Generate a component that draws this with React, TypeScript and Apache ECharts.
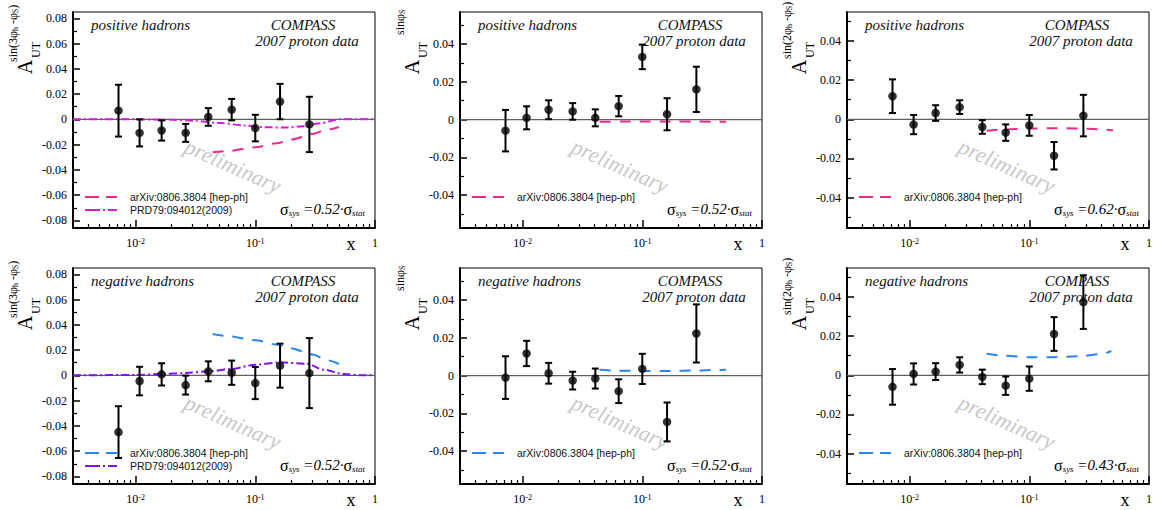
import React, { useEffect, useRef } from 'react';
import * as echarts from 'echarts';

const SERIF = '"Liberation Serif", "Times New Roman", serif';
const SANS = '"Liberation Sans", Arial, sans-serif';

// x bin centres, common to all panels
const xBins = [0.0072, 0.0108, 0.0165, 0.0262, 0.0405, 0.0635, 0.1, 0.161, 0.283];

// x axis
const xRange = [0.003, 1];
const xMajorTicks = [0.01, 0.1, 1];
const xMajorLabels = ['10^-2', '10^-1', '1'];
const xMinorTicks = [0.004, 0.005, 0.006, 0.007, 0.008, 0.009, 0.02, 0.03, 0.04, 0.05, 0.06, 0.07, 0.08, 0.09, 0.2, 0.3, 0.4, 0.5, 0.6, 0.7, 0.8, 0.9];

// y axis ticks
const yMajorWide = [-0.08, -0.06, -0.04, -0.02, 0, 0.02, 0.04, 0.06, 0.08];
const yMinorWide = [-0.07, -0.05, -0.03, -0.01, 0.01, 0.03, 0.05, 0.07];
const yMajorNarrow = [-0.04, -0.02, 0, 0.02, 0.04];
const yMinorNarrow = [-0.05, -0.03, -0.01, 0.01, 0.03, 0.05];

// panel 1: sin(3phi_h - phi_S), positive hadrons
const a3PosVal = [0.0069, -0.0107, -0.0088, -0.0107, 0.0019, 0.0077, -0.0069, 0.0141, -0.0040];
const a3PosErr = [0.0205, 0.0107, 0.0080, 0.0071, 0.0070, 0.0085, 0.0105, 0.0140, 0.0219];
const a3PosArxivX = [0.044, 0.06, 0.08, 0.1, 0.15, 0.2, 0.3, 0.4, 0.5];
const a3PosArxivY = [-0.026, -0.025, -0.0235, -0.022, -0.019, -0.016, -0.0115, -0.008, -0.006];
const a3PosPrdX = [0.003, 0.01, 0.02, 0.03, 0.05, 0.08, 0.12, 0.18, 0.25, 0.35, 0.5, 0.7, 1.0];
const a3PosPrdY = [0, 0, -0.0003, -0.001, -0.0028, -0.0048, -0.0062, -0.0065, -0.0055, -0.003, 0, 0, 0];

// panel 2: sin(phi_S), positive hadrons
const aSPosVal = [-0.0059, 0.0009, 0.0052, 0.0043, 0.0009, 0.0071, 0.0332, 0.0028, 0.0160];
const aSPosErr = [0.0110, 0.0061, 0.0050, 0.0044, 0.0045, 0.0054, 0.0065, 0.0085, 0.0120];
const aSPosArxivX = [0.044, 0.07, 0.1, 0.15, 0.2, 0.3, 0.5];
const aSPosArxivY = [-0.0012, -0.0011, -0.001, -0.001, -0.001, -0.0011, -0.0012];

// panel 3: sin(2phi_h - phi_S), positive hadrons
const a2PosVal = [0.0118, -0.0027, 0.0032, 0.0062, -0.0039, -0.0068, -0.0031, -0.0186, 0.0019];
const a2PosErr = [0.0086, 0.0049, 0.0040, 0.0035, 0.0035, 0.0042, 0.0053, 0.0070, 0.0106];
const a2PosArxivX = [0.044, 0.06, 0.1, 0.15, 0.2, 0.3, 0.4, 0.5];
const a2PosArxivY = [-0.0058, -0.0052, -0.0047, -0.0046, -0.0046, -0.0048, -0.0052, -0.0056];

// panel 4: sin(3phi_h - phi_S), negative hadrons
const a3NegVal = [-0.0449, -0.0045, 0.0008, -0.0077, 0.0032, 0.0021, -0.0061, 0.0077, 0.0018];
const a3NegErr = [0.0205, 0.0113, 0.0088, 0.0075, 0.0079, 0.0096, 0.0127, 0.0174, 0.0277];
const a3NegArxivX = [0.044, 0.06, 0.1, 0.15, 0.2, 0.25, 0.3, 0.4, 0.5];
const a3NegArxivY = [0.0327, 0.031, 0.0278, 0.0245, 0.0215, 0.019, 0.0165, 0.012, 0.009];
const a3NegPrdX = [0.003, 0.01, 0.0165, 0.026, 0.04, 0.063, 0.1, 0.16, 0.27, 0.37, 0.55, 0.8, 1.0];
const a3NegPrdY = [0, 0.0003, 0.001, 0.0018, 0.0032, 0.005, 0.0084, 0.0103, 0.0092, 0.0045, 0.001, 0, 0];

// panel 5: sin(phi_S), negative hadrons
const aSNegVal = [-0.0011, 0.0117, 0.0012, -0.0027, -0.0016, -0.0083, 0.0035, -0.0246, 0.0223];
const aSNegErr = [0.0113, 0.0067, 0.0055, 0.0047, 0.0053, 0.0063, 0.0080, 0.0103, 0.0154];
const aSNegArxivX = [0.044, 0.06, 0.1, 0.15, 0.2, 0.3, 0.4, 0.5];
const aSNegArxivY = [0.003, 0.0026, 0.0024, 0.0024, 0.0025, 0.0027, 0.0029, 0.003];

// panel 6: sin(2phi_h - phi_S), negative hadrons
const a2NegVal = [-0.0059, 0.0007, 0.0019, 0.0053, -0.0008, -0.0053, -0.0017, 0.0211, 0.0374];
const a2NegErr = [0.0091, 0.0054, 0.0043, 0.0039, 0.0037, 0.0047, 0.0062, 0.0086, 0.0137];
const a2NegArxivX = [0.044, 0.062, 0.1, 0.146, 0.265, 0.39, 0.485];
const a2NegArxivY = [0.011, 0.01, 0.0092, 0.0092, 0.0097, 0.0108, 0.0124];

const sysFactors = ['0.52', '0.52', '0.62', '0.52', '0.52', '0.43'];
const chargeLabels = ['positive hadrons', 'positive hadrons', 'positive hadrons', 'negative hadrons', 'negative hadrons', 'negative hadrons'];
const arxivName = 'arXiv:0806.3804 [hep-ph]';
const prdName = 'PRD79:094012(2009)';

const PINK = '#f0288c';
const MAGENTA = '#d21ed2';
const BLUE = '#2a84f0';
const PURPLE = '#8010f0';
const DASH = [11, 9];
const DASHDOT = [8, 3, 2, 3];
const LEG_DASH = [14, 7];
const LEG_DASHDOT = [15, 3, 2, 3];

const W = 302;
const H = 216;

type Curve = { name: string; x: number[]; y: number[]; color: string; dash: number[]; legDash: number[] };

const wideRange = [-0.086, 0.085];
const sRange = [-0.0575, 0.057];
const twoRange = [-0.0555, 0.0548];

const panels = [
  { L: 73, T: 12, yRange: wideRange, yMajor: yMajorWide, yMinor: yMinorWide, sup: 'sin(3φ{s|h} -φ{s|S})', supStart: 50, vals: a3PosVal, errs: a3PosErr,
    curves: [
      { name: arxivName, x: a3PosArxivX, y: a3PosArxivY, color: PINK, dash: DASH, legDash: LEG_DASH },
      { name: prdName, x: a3PosPrdX, y: a3PosPrdY, color: MAGENTA, dash: DASHDOT, legDash: LEG_DASHDOT },
    ] as Curve[] },
  { L: 460, T: 12, yRange: sRange, yMajor: yMajorNarrow, yMinor: yMinorNarrow, sup: 'sinφ{s|S}', supStart: 23, vals: aSPosVal, errs: aSPosErr,
    curves: [{ name: arxivName, x: aSPosArxivX, y: aSPosArxivY, color: PINK, dash: DASH, legDash: LEG_DASH }] as Curve[] },
  { L: 847, T: 12, yRange: twoRange, yMajor: yMajorNarrow, yMinor: yMinorNarrow, sup: 'sin(2φ{s|h} -φ{s|S})', supStart: 47, vals: a2PosVal, errs: a2PosErr,
    curves: [{ name: arxivName, x: a2PosArxivX, y: a2PosArxivY, color: PINK, dash: DASH, legDash: LEG_DASH }] as Curve[] },
  { L: 73, T: 268, yRange: wideRange, yMajor: yMajorWide, yMinor: yMinorWide, sup: 'sin(3φ{s|h} -φ{s|S})', supStart: 50, vals: a3NegVal, errs: a3NegErr,
    curves: [
      { name: arxivName, x: a3NegArxivX, y: a3NegArxivY, color: BLUE, dash: DASH, legDash: LEG_DASH },
      { name: prdName, x: a3NegPrdX, y: a3NegPrdY, color: PURPLE, dash: DASHDOT, legDash: LEG_DASHDOT },
    ] as Curve[] },
  { L: 460, T: 268, yRange: sRange, yMajor: yMajorNarrow, yMinor: yMinorNarrow, sup: 'sinφ{s|S}', supStart: 23, vals: aSNegVal, errs: aSNegErr,
    curves: [{ name: arxivName, x: aSNegArxivX, y: aSNegArxivY, color: BLUE, dash: DASH, legDash: LEG_DASH }] as Curve[] },
  { L: 847, T: 268, yRange: twoRange, yMajor: yMajorNarrow, yMinor: yMinorNarrow, sup: 'sin(2φ{s|h} -φ{s|S})', supStart: 47, vals: a2NegVal, errs: a2NegErr,
    curves: [{ name: arxivName, x: a2NegArxivX, y: a2NegArxivY, color: BLUE, dash: DASH, legDash: LEG_DASH }] as Curve[] },
];

function fmtX(v: number) {
  const lv = Math.log10(v);
  for (let i = 0; i < xMajorTicks.length; i++) {
    if (Math.abs(Math.log10(xMajorTicks[i]) - lv) < 1e-6) {
      const parts = xMajorLabels[i].split('^');
      if (parts.length === 2) return '{b|' + parts[0] + '}{e|' + parts[1] + '}';
      return '{o|' + parts[0] + '}';
    }
  }
  return '';
}

function fmtY(v: number) {
  if (Math.abs(v) < 1e-9) return '0';
  return v.toFixed(2);
}

function txt(x: number, y: number, text: string, font: any, extra: any = {}) {
  return {
    type: 'text', x, y, z: 100, silent: true,
    ...extra,
    style: {
      text, fill: '#111', fontFamily: SERIF,
      textAlign: 'left', align: 'left', textVerticalAlign: 'middle', verticalAlign: 'middle',
      ...font,
    },
  };
}

function buildOption() {
  const grid: any[] = [];
  const xAxis: any[] = [];
  const yAxis: any[] = [];
  const series: any[] = [];
  const graphic: any[] = [];

  panels.forEach((p, i) => {
    grid.push({ left: p.L, top: p.T, width: W, height: H, show: true, borderColor: '#000', borderWidth: 1, backgroundColor: 'transparent', containLabel: false, outerBoundsMode: 'none' });

    const xCommon = { gridIndex: i, type: 'log', logBase: 10, min: xRange[0], max: xRange[1], position: 'bottom', splitLine: { show: false }, minorTick: { show: false } };
    xAxis.push({ ...xCommon,
      axisLine: { show: true, onZero: false, lineStyle: { color: '#000', width: 2 } },
      axisTick: { show: true, inside: true, length: 8, customValues: xMajorTicks, lineStyle: { color: '#000', width: 1.5 } },
      axisLabel: { show: true, customValues: xMajorTicks, margin: 9, formatter: fmtX, color: '#000',
        rich: {
          b: { fontSize: 12, fontFamily: SERIF, color: '#000' },
          e: { fontSize: 8, fontFamily: SERIF, color: '#000', verticalAlign: 'top' },
          o: { fontSize: 12, fontFamily: SERIF, color: '#000' },
        } },
    });
    xAxis.push({ ...xCommon,
      axisLine: { show: false, onZero: false },
      axisTick: { show: true, inside: true, length: 4, customValues: xMinorTicks, lineStyle: { color: '#000', width: 1.2 } },
      axisLabel: { show: false },
    });

    const yCommon = { gridIndex: i, type: 'value', min: p.yRange[0], max: p.yRange[1], position: 'left', splitLine: { show: false } };
    yAxis.push({ ...yCommon,
      axisLine: { show: true, onZero: false, lineStyle: { color: '#000', width: 2 } },
      axisTick: { show: true, inside: true, length: 7, customValues: p.yMajor, lineStyle: { color: '#000', width: 1.5 } },
      axisLabel: { show: true, customValues: p.yMajor, margin: 6, formatter: fmtY, color: '#000', fontSize: 12, fontFamily: SERIF },
    });
    yAxis.push({ ...yCommon,
      axisLine: { show: false, onZero: false },
      axisTick: { show: true, inside: true, length: 4, customValues: p.yMinor, lineStyle: { color: '#000', width: 1.2 } },
      axisLabel: { show: false },
    });

    const xi = 2 * i;
    const yi = 2 * i;

    // zero reference line
    series.push({ type: 'line', xAxisIndex: xi, yAxisIndex: yi, data: [[xRange[0], 0], [xRange[1], 0]], symbol: 'none', silent: true, z: 1,
      lineStyle: { color: '#606060', width: 1.3 } });

    p.curves.forEach((c) => {
      series.push({ type: 'line', name: c.name, xAxisIndex: xi, yAxisIndex: yi, data: c.x.map((x, k) => [x, c.y[k]]),
        smooth: 0.3, smoothMonotone: 'x', symbol: 'none', showSymbol: false, silent: true, z: 2,
        lineStyle: { color: c.color, width: 2, type: c.dash } });
    });

    series.push({ type: 'custom', xAxisIndex: xi, yAxisIndex: yi, z: 3, silent: true,
      data: xBins.map((x, k) => [x, p.vals[k], p.errs[k]]),
      encode: { x: 0, y: 1 },
      renderItem: (params: any, api: any) => {
        const x = api.value(0);
        const y = api.value(1);
        const e = api.value(2);
        const top = api.coord([x, y + e]);
        const bot = api.coord([x, y - e]);
        const c = 3.5;
        const st = { stroke: '#000', lineWidth: 2 };
        return { type: 'group', children: [
          { type: 'line', shape: { x1: top[0], y1: top[1], x2: bot[0], y2: bot[1] }, style: st },
          { type: 'line', shape: { x1: top[0] - c, y1: top[1], x2: top[0] + c, y2: top[1] }, style: st },
          { type: 'line', shape: { x1: bot[0] - c, y1: bot[1], x2: bot[0] + c, y2: bot[1] }, style: st },
        ] };
      } });

    series.push({ type: 'scatter', xAxisIndex: xi, yAxisIndex: yi, z: 4, silent: true,
      data: xBins.map((x, k) => [x, p.vals[k]]), symbol: 'circle', symbolSize: 8.5,
      itemStyle: { color: '#000' } });

    // decorations
    const L = p.L;
    const T = p.T;
    graphic.push({ type: 'text', x: L + 160, y: T + 154, rotation: -24 * Math.PI / 180, z: 0, silent: true,
      style: { text: 'preliminary', fill: '#c8c8c8', fontFamily: SERIF, fontStyle: 'italic', fontSize: 22,
        textAlign: 'center', align: 'center', textVerticalAlign: 'middle', verticalAlign: 'middle' } });
    graphic.push(txt(L + 18, T + 13, chargeLabels[i], { fontStyle: 'italic', fontSize: 15 }));
    graphic.push(txt(L + 230, T + 13, 'COMPASS', { fontStyle: 'italic', fontSize: 15, textAlign: 'center', align: 'center' }));
    graphic.push(txt(L + 234, T + 29, '2007 proton data', { fontStyle: 'italic', fontSize: 15, textAlign: 'center', align: 'center' }));
    graphic.push(txt(L + 278, T + 232, 'x', { fontSize: 18, textAlign: 'center', align: 'center', fill: '#000' }));

    // y-axis title
    graphic.push(txt(L - 48, T + 55, 'A', { fontSize: 20, textAlign: 'center', align: 'center', fill: '#000' }, { rotation: Math.PI / 2 }));
    graphic.push(txt(L - 37, T + 38, 'UT', { fontSize: 12, textAlign: 'center', align: 'center', fill: '#000' }, { rotation: Math.PI / 2 }));
    graphic.push(txt(L - 60, T + p.supStart, p.sup, { fontSize: 12, fill: '#000',
      rich: { s: { fontSize: 8, fontFamily: SERIF, fill: '#000', verticalAlign: 'bottom' } } }, { rotation: Math.PI / 2 }));

    // sigma_sys label
    graphic.push(txt(L + 207, T + 197, '{g|σ}{s|sys} {t|=' + sysFactors[i] + '·}{g|σ}{s|stat}', { fontSize: 15, fill: '#000',
      rich: {
        g: { fontSize: 16, fontFamily: SERIF, fill: '#000' },
        s: { fontSize: 9, fontFamily: SERIF, fontStyle: 'italic', fill: '#000', verticalAlign: 'bottom' },
        t: { fontSize: 15, fontFamily: SERIF, fontStyle: 'italic', fill: '#000' },
      } }));

    // legend
    p.curves.forEach((c, k) => {
      const ly = T + 185 + k * 13;
      graphic.push({ type: 'line', z: 100, silent: true, shape: { x1: L + 12, y1: ly, x2: L + 44, y2: ly },
        style: { stroke: c.color, lineWidth: 2, lineDash: c.legDash } });
      graphic.push(txt(L + 57, ly, c.name, { fontFamily: SANS, fontSize: 10.5, fill: '#111' }));
    });
  });

  return {
    animation: false,
    backgroundColor: '#fff',
    tooltip: { show: false },
    grid, xAxis, yAxis, series, graphic,
  };
}

export default function App() {
  const ref = useRef<HTMLDivElement>(null);
  useEffect(() => {
    document.body.style.margin = '0';
    if (!ref.current) return;
    const chart = echarts.init(ref.current, null, { renderer: 'svg' });
    chart.setOption(buildOption() as any);
    return () => chart.dispose();
  }, []);
  return <div ref={ref} style={{ width: 1157, height: 510, background: '#fff', overflow: 'hidden' }} />;
}
